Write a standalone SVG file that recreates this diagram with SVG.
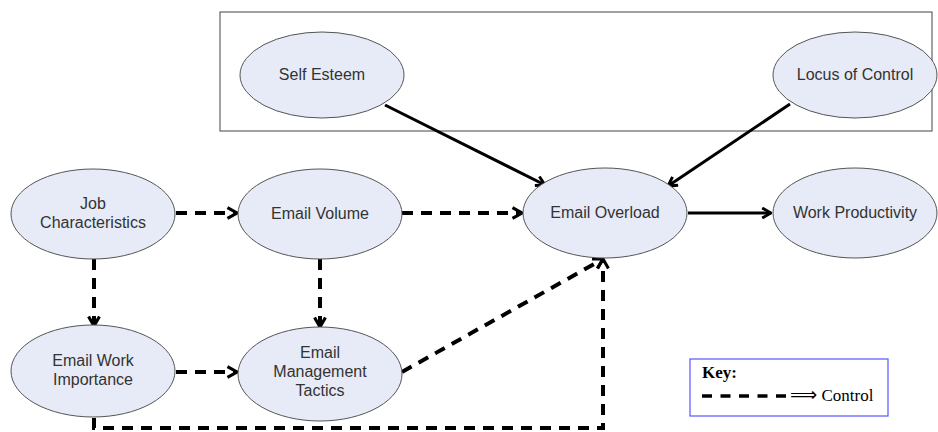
<svg xmlns="http://www.w3.org/2000/svg" width="938" height="432" viewBox="0 0 938 432">
<style>
.n ellipse{fill:#e6ebf7;stroke:#555;stroke-width:1}
.n text{font-family:"Liberation Sans",Arial,sans-serif;font-size:16px;fill:#333;text-anchor:middle}
.s{fill:none;stroke:#000;stroke-width:3}
.d{fill:none;stroke:#000;stroke-width:4;stroke-dasharray:11 8}
.k{font-family:"Liberation Serif","DejaVu Serif",serif;font-size:17px;fill:#000}
</style>
<defs>
<marker id="a" viewBox="0 0 10 10" refX="9" refY="5" markerWidth="4.2" markerHeight="4.2" orient="auto" markerUnits="strokeWidth">
<polyline points="2,1 9,5 2,9" fill="none" stroke="#000" stroke-width="2.3"/>
</marker>
<marker id="b" viewBox="0 0 10 10" refX="9" refY="5" markerWidth="3.4" markerHeight="3.4" orient="auto" markerUnits="strokeWidth">
<polyline points="2,1 9,5 2,9" fill="none" stroke="#000" stroke-width="2.3"/>
</marker>
</defs>
<rect x="220" y="12" width="712" height="119" fill="#fff" stroke="#444" stroke-width="1"/>
<g id="connectors">
<line class="s" x1="385" y1="105" x2="545" y2="185" marker-end="url(#a)"/>
<line class="s" x1="790" y1="104" x2="668" y2="186" marker-end="url(#a)"/>
<line class="s" x1="688" y1="213" x2="771" y2="213" marker-end="url(#a)"/>
<line class="d" x1="176" y1="213" x2="237" y2="213" marker-end="url(#b)"/>
<line class="d" x1="402" y1="213" x2="522" y2="213" marker-end="url(#b)"/>
<line class="d" x1="94" y1="259" x2="94" y2="326" marker-end="url(#b)"/>
<line class="d" x1="320" y1="259" x2="320" y2="327" marker-end="url(#b)"/>
<line class="d" x1="176" y1="372" x2="237" y2="372" marker-end="url(#b)"/>
<line class="d" x1="402" y1="372" x2="603" y2="259" marker-end="url(#b)"/>
<polyline class="d" points="94,418 94,428 603,428 603,259" marker-end="url(#b)"/>
</g>
<g id="self-esteem" class="n"><ellipse cx="322" cy="75" rx="82" ry="43"/><text x="322" y="80">Self Esteem</text></g>
<g id="locus-of-control" class="n"><ellipse cx="855" cy="75" rx="82" ry="43"/><text x="855" y="80">Locus of Control</text></g>
<g id="job-characteristics" class="n"><ellipse cx="93" cy="214" rx="82" ry="45"/><text x="93" y="209">Job</text><text x="93" y="228">Characteristics</text></g>
<g id="email-volume" class="n"><ellipse cx="320" cy="214" rx="82" ry="45"/><text x="320" y="219">Email Volume</text></g>
<g id="email-overload" class="n"><ellipse cx="605" cy="213" rx="82" ry="45"/><text x="605" y="218">Email Overload</text></g>
<g id="work-productivity" class="n"><ellipse cx="855" cy="213" rx="82" ry="45"/><text x="855" y="218">Work Productivity</text></g>
<g id="email-work-importance" class="n"><ellipse cx="93" cy="371" rx="82" ry="46"/><text x="93" y="366">Email Work</text><text x="93" y="385">Importance</text></g>
<g id="email-management-tactics" class="n"><ellipse cx="320" cy="374" rx="82" ry="47"/><text x="320" y="358">Email</text><text x="320" y="377">Management</text><text x="320" y="396">Tactics</text></g>
<g id="key">
<rect x="690" y="359" width="198" height="57" fill="#fff" stroke="#5555ff" stroke-width="1.2"/>
<text class="k" x="702" y="378" font-weight="bold">Key:</text>
<line x1="702" y1="396" x2="786" y2="396" stroke="#000" stroke-width="3.5" stroke-dasharray="10 8.5"/>
<text class="k" x="790" y="401"><tspan font-family="'DejaVu Sans',sans-serif" font-size="19">⟹</tspan> Control</text>
</g>
</svg>
